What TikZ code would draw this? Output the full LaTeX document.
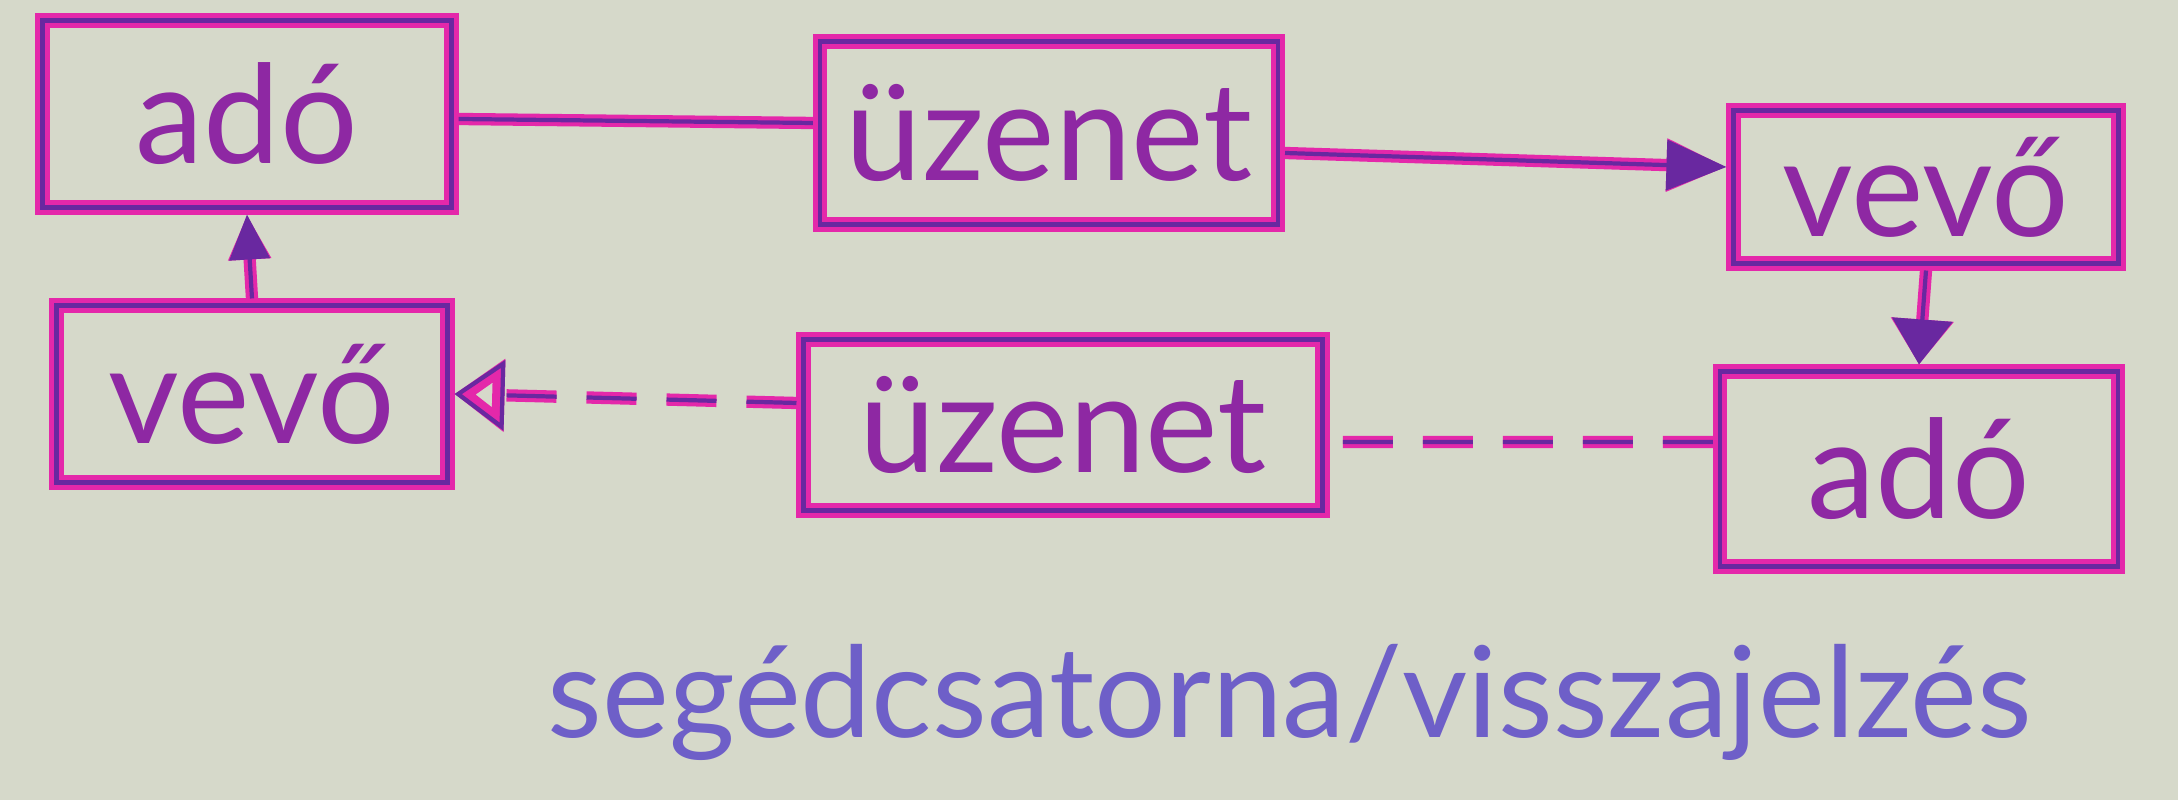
\documentclass[tikz,border=0pt]{standalone}
\usepackage{fontspec}
\setmainfont{Lato}
\usepackage{xcolor}
\usepackage{tikz}
\usetikzlibrary{arrows.meta}
\usetikzlibrary{positioning}
\definecolor{paper}{RGB}{214,217,202}
\definecolor{pinkpen}{RGB}{228,40,170}
\definecolor{purplepen}{RGB}{105,40,160}
\definecolor{bluepen}{RGB}{110,95,200}
\tikzset{
  MyBox/.style={
    rectangle,
    draw=pinkpen, line width=4pt,
    postaction={draw=purplepen, line width=1.4pt},
    text=purplepen!70!pinkpen,
    font=\fontsize{39}{44}\selectfont,
  },
  MyLine/.style={
    draw=pinkpen, line width=3.5pt,
    postaction={draw=purplepen, line width=1.2pt},
  },
}

\begin{document}
\begin{tikzpicture}
\fill[paper] (0,0) rectangle (21.78,8);
\useasboundingbox (0,0) rectangle (21.78,8);
\node[MyBox, minimum width=4.09cm, minimum height=1.87cm] (ADO1) at (2.47,6.86) {adó};
\node[MyBox, minimum width=3.91cm, minimum height=1.77cm] (VEVO1) at (2.52,4.06) {vevő};
\node[MyBox, minimum width=4.58cm, minimum height=1.83cm] (UZ1) at (10.49,6.67) {üzenet};
\node[MyBox, minimum width=5.19cm, minimum height=1.71cm] (UZ2) at (10.63,3.75) {üzenet};
\node[MyBox, minimum width=3.85cm, minimum height=1.53cm] (VEVO2) at (19.26,6.13) {vevő};
\node[MyBox, minimum width=3.98cm, minimum height=1.95cm] (ADO2) at (19.19,3.31) {adó};
\node[text=bluepen, font=\fontsize{36}{40}\selectfont] (LABEL) at (12.9,0.98) {segédcsatorna/visszajelzés};
\draw[MyLine] ([yshift=-0.05cm]ADO1.east) to ([yshift=0.1cm]UZ1.west);
\draw[MyLine,-{Triangle[length=6mm,width=5mm]}] ([yshift=-0.2cm]UZ1.east) to ([yshift=0.2cm]VEVO2.west);
\draw[MyLine,-{Triangle[length=4.5mm,width=6mm]}] (VEVO2.south) to (ADO2.north);
\draw[MyLine,-{Triangle[length=4.5mm,width=4mm]}] (VEVO1.north) to (ADO1.south);
\draw[MyLine,dash pattern=on 0.5cm off 0.3cm] ([yshift=0.27cm]ADO2.west) to ([yshift=-0.17cm]UZ2.east);
\draw[MyLine,dash pattern=on 0.5cm off 0.3cm,-{Triangle[open,length=5mm,width=7mm]}] ([yshift=0.22cm]UZ2.west) to (VEVO1.east);
\end{tikzpicture}
\end{document}
